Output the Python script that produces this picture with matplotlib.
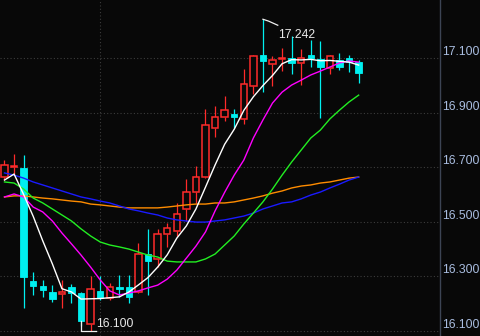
import matplotlib
matplotlib.use('Agg')
import matplotlib.pyplot as plt
import numpy as np

# ---- data ----
opens = [16.664, 16.700, 16.697, 16.283, 16.265, 16.243, 16.236, 16.261, 16.239, 16.126,
         16.247, 16.221, 16.261, 16.261, 16.243, 16.382, 16.364, 16.455, 16.466, 16.547,
         16.609, 16.664, 16.844, 16.884, 16.895, 16.877, 16.997, 17.111, 17.078, 17.096,
         17.100, 17.082, 17.111, 17.096, 17.063, 17.093, 17.100, 17.085]
highs = [16.726, 16.748, 16.745, 16.316, 16.287, 16.268, 16.287, 16.272, 16.243, 16.301,
         16.301, 16.276, 16.305, 16.305, 16.422, 16.474, 16.474, 16.496, 16.569, 16.657,
         16.704, 16.913, 16.924, 16.960, 16.913, 17.060, 17.111, 17.242, 17.107, 17.137,
         17.181, 17.133, 17.166, 17.162, 17.111, 17.118, 17.111, 17.093]
lows = [16.653, 16.675, 16.184, 16.232, 16.225, 16.206, 16.184, 16.203, 16.118, 16.100,
        16.213, 16.213, 16.225, 16.203, 16.239, 16.232, 16.334, 16.408, 16.448, 16.503,
        16.569, 16.660, 16.810, 16.869, 16.844, 16.858, 16.970, 16.975, 16.998, 17.052,
        17.041, 17.001, 17.067, 16.880, 17.041, 17.056, 17.049, 17.008]
closes = [16.708, 16.705, 16.298, 16.265, 16.250, 16.217, 16.243, 16.239, 16.137, 16.254,
          16.221, 16.261, 16.254, 16.225, 16.382, 16.356, 16.455, 16.477, 16.529, 16.609,
          16.664, 16.855, 16.884, 16.910, 16.884, 17.005, 17.107, 17.089, 17.093, 17.100,
          17.082, 17.100, 17.100, 17.067, 17.107, 17.067, 17.085, 17.045]

ma_white = [16.653, 16.675, 16.600, 16.520, 16.430, 16.346, 16.255, 16.243, 16.217, 16.218,
            16.219, 16.222, 16.225, 16.243, 16.269, 16.296, 16.334, 16.379, 16.440, 16.485,
            16.547, 16.627, 16.708, 16.784, 16.839, 16.908, 16.958, 16.999, 17.036, 17.079,
            17.094, 17.093, 17.095, 17.090, 17.091, 17.088, 17.085, 17.074]
ma_magenta = [16.591, 16.602, 16.591, 16.554, 16.536, 16.503, 16.459, 16.419, 16.378, 16.334,
              16.287, 16.247, 16.232, 16.239, 16.247, 16.258, 16.268, 16.290, 16.323, 16.367,
              16.411, 16.463, 16.540, 16.608, 16.671, 16.726, 16.807, 16.873, 16.935, 16.975,
              17.001, 17.019, 17.038, 17.052, 17.067, 17.082, 17.089, 17.085]
ma_green = [16.646, 16.642, 16.620, 16.587, 16.569, 16.547, 16.525, 16.503, 16.474, 16.448,
            16.426, 16.415, 16.408, 16.400, 16.389, 16.378, 16.371, 16.356, 16.353, 16.353,
            16.353, 16.364, 16.382, 16.415, 16.448, 16.492, 16.532, 16.573, 16.620, 16.671,
            16.719, 16.763, 16.807, 16.836, 16.877, 16.909, 16.939, 16.964]
ma_blue = [16.679, 16.671, 16.660, 16.646, 16.635, 16.624, 16.613, 16.602, 16.591, 16.584,
           16.576, 16.569, 16.558, 16.547, 16.540, 16.532, 16.525, 16.514, 16.507, 16.503,
           16.499, 16.499, 16.503, 16.507, 16.514, 16.521, 16.532, 16.547, 16.558, 16.569,
           16.573, 16.584, 16.598, 16.609, 16.624, 16.638, 16.653, 16.664]
ma_orange = [16.591, 16.595, 16.595, 16.591, 16.587, 16.584, 16.580, 16.576, 16.573, 16.565,
             16.562, 16.558, 16.554, 16.551, 16.551, 16.551, 16.551, 16.554, 16.558, 16.562,
             16.565, 16.565, 16.569, 16.569, 16.573, 16.580, 16.587, 16.595, 16.605, 16.613,
             16.624, 16.631, 16.635, 16.642, 16.646, 16.653, 16.660, 16.664]

ytick_values = [16.1, 16.3, 16.5, 16.7, 16.9, 17.1]
ytick_labels = ['16.100', '16.300', '16.500', '16.700', '16.900', '17.100']
session_break = 10

# ---- styling ----
BG = '#080808'
UP = '#ff2a2a'
DOWN = '#00f0f0'
GRID = '#3c3c3c'
FONT = ['Liberation Sans', 'DejaVu Sans']

fig = plt.figure(figsize=(4.8, 3.36), dpi=100, facecolor=BG)
ax = fig.add_axes([0, 0, 440 / 480, 1])
ax.set_facecolor(BG)

o = np.array(opens); h = np.array(highs); l = np.array(lows); c = np.array(closes)
x = np.arange(len(c))
up = c >= o
body_lo = np.minimum(o, c)
body_hi = np.maximum(o, c)
body_h = np.maximum(body_hi - body_lo, 0.002)
W = 0.68

# wicks
ax.vlines(x[~up], l[~up], h[~up], color=DOWN, lw=0.9, zorder=2)
ax.vlines(x[up], l[up], body_lo[up], color=UP, lw=0.9, zorder=2)
ax.vlines(x[up], body_hi[up], h[up], color=UP, lw=0.9, zorder=2)
# bodies
ax.bar(x[~up], body_h[~up], W, bottom=body_lo[~up], color=DOWN, edgecolor=DOWN,
       lw=0.6, zorder=3)
ax.bar(x[up], body_h[up], W, bottom=body_lo[up], facecolor=BG, edgecolor=UP,
       lw=1.1, zorder=3)

# moving averages
for vals, col in [(ma_orange, '#ff8c00'), (ma_blue, '#1a1aff'), (ma_green, '#22ee22'),
                  (ma_magenta, '#ff00ff'), (ma_white, '#ffffff')]:
    ax.plot(x, vals, color=col, lw=1.0, zorder=4)

# high / low annotations
hi_i = int(np.argmax(h)); hi = h[hi_i]
ax.plot([hi_i, hi_i + 0.6, hi_i + 1.55], [hi, hi - 0.007, hi - 0.022],
        color='#f0f0f0', lw=0.9, zorder=5)
ax.text(hi_i + 1.55, hi - 0.069, f'{hi:.3f}', color='#e8e8e8', fontsize=8.8,
        family=FONT, ha='left', va='baseline', zorder=6)

lo_i = int(np.argmin(l)); lo = l[lo_i]
ax.plot([lo_i - 1, lo_i - 1, lo_i + 0.6], [lo + 0.035, lo, lo],
        color='#f0f0f0', lw=0.9, zorder=5)
ax.text(lo_i + 0.56, lo + 0.015, f'{lo:.3f}', color='#e8e8e8', fontsize=8.8,
        family=FONT, ha='left', va='baseline', zorder=6)

# axes
ax.set_xlim(-0.47, 45.5)
ax.set_ylim(16.0817, 17.3125)
ax.set_xticks([])
ax.yaxis.tick_right()
ax.set_yticks(ytick_values, ytick_labels)
ax.tick_params(axis='y', length=0, pad=1.5, labelcolor='#a9bde0', labelsize=8.8)
for lbl in ax.get_yticklabels():
    lbl.set_va('bottom')
    lbl.set_family(FONT)
ax.yaxis.grid(True, color=GRID, linestyle=(0, (1, 2)), lw=0.8, zorder=0)
ax.axvline(session_break, color=GRID, linestyle=(0, (1, 2)), lw=0.8, zorder=0)
for s in ['left', 'top', 'bottom']:
    ax.spines[s].set_visible(False)
ax.spines['right'].set_color('#3c4454')
ax.spines['right'].set_linewidth(1.0)

fig.savefig('out.png', dpi=100, facecolor=BG)
